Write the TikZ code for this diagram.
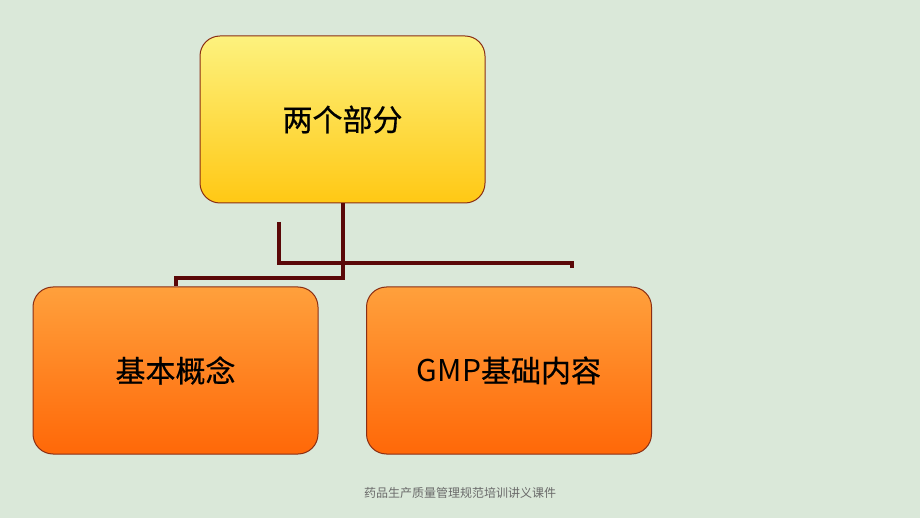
\documentclass[tikz,border=0pt]{standalone}
\usepackage{fontspec}
\newfontfamily\cjk{Noto Sans CJK SC}
\newfontfamily\cjkb{Noto Sans CJK SC}[FakeBold=0.6]
\definecolor{bgc}{HTML}{DAE8D9}
\definecolor{linec}{HTML}{5A0808}
\definecolor{borderc}{HTML}{8A2E14}
\definecolor{ytop}{HTML}{FDF27E}
\definecolor{ybot}{HTML}{FFC814}
\definecolor{otop}{HTML}{FFA03C}
\definecolor{obot}{HTML}{FF6808}
\definecolor{footc}{HTML}{6A6A6A}
\tikzset{
  box/.style={draw=borderc, line width=1pt, rounded corners=20pt,
    minimum width=285pt, minimum height=167pt, inner sep=0pt,
    font=\cjkb\fontsize{30}{36}\selectfont, text=black},
  ybox/.style={box, top color=ytop, bottom color=ybot},
  obox/.style={box, top color=otop, bottom color=obot},
  conn/.style={draw=linec, line width=4pt},
}
\begin{document}
\begin{tikzpicture}[x=1pt,y=-1pt]
\fill[bgc] (0,0) rectangle (920,518);
\useasboundingbox (0,0) rectangle (920,518);
\node[ybox] (top) at (342.5,119.5) {两个部分};
\node[obox] (left) at (175.5,370.5) {基本概念};
\node[obox] (right) at (509,370.5) {{\cjk GMP}基础内容};
\coordinate (c1) at (279,222);
\coordinate (c2) at (572,268);
\draw[conn] (top.south) -- (342.5,278) -| (left.north);
\draw[conn] (c1) |- (572,263) -- (c2);
\node[font=\cjk\fontsize{12}{14}\selectfont, text=footc] (foot) at (460,493) {药品生产质量管理规范培训讲义课件};
\end{tikzpicture}
\end{document}
